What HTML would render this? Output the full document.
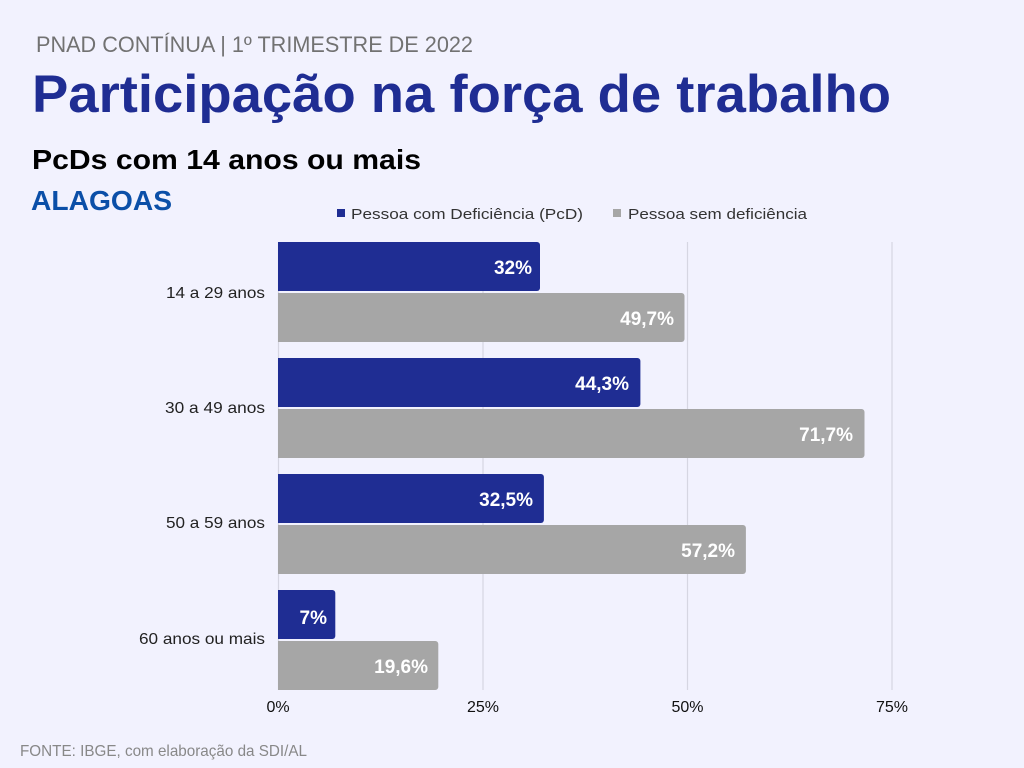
<!DOCTYPE html>
<html><head><meta charset="utf-8"><style>
html,body{margin:0;padding:0;background:#f2f2fe;}
svg{display:block;}
</style></head><body>
<svg width="1024" height="768" viewBox="0 0 1024 768" xmlns="http://www.w3.org/2000/svg" font-family="'Liberation Sans', sans-serif">
<rect x="0" y="0" width="1024" height="768" fill="#f2f2fe"/>
<text x="36" y="52" font-size="22" fill="#727272" textLength="437" lengthAdjust="spacingAndGlyphs">PNAD CONTÍNUA | 1º TRIMESTRE DE 2022</text>
<text x="32" y="112" font-size="53" font-weight="bold" fill="#1f2d93" textLength="859" lengthAdjust="spacingAndGlyphs">Participação na força de trabalho</text>
<text x="32" y="169" font-size="28" font-weight="bold" fill="#000" textLength="389" lengthAdjust="spacingAndGlyphs">PcDs com 14 anos ou mais</text>
<text x="31" y="210" font-size="28" font-weight="bold" fill="#0b4fa8" textLength="141" lengthAdjust="spacingAndGlyphs">ALAGOAS</text>
<!-- legend -->
<rect x="337" y="209" width="8" height="8" fill="#1f2d93"/>
<text x="351" y="219" font-size="15" fill="#333" textLength="232" lengthAdjust="spacingAndGlyphs">Pessoa com Deficiência (PcD)</text>
<rect x="613" y="209" width="8" height="8" fill="#a6a6a6"/>
<text x="628" y="219" font-size="15" fill="#333" textLength="179" lengthAdjust="spacingAndGlyphs">Pessoa sem deficiência</text>
<!-- gridlines -->
<g stroke="#d6d6e2" stroke-width="1.2">
<line x1="278.5" y1="242" x2="278.5" y2="690"/>
<line x1="483" y1="242" x2="483" y2="690"/>
<line x1="687.5" y1="242" x2="687.5" y2="690"/>
<line x1="892" y1="242" x2="892" y2="690"/>
</g>
<!-- bars -->
<g>
<path d="M278 242 H537 a3 3 0 0 1 3 3 V288 a3 3 0 0 1 -3 3 H278 Z" fill="#1f2d93"/>
<path d="M278 293 H681.5 a3 3 0 0 1 3 3 V339 a3 3 0 0 1 -3 3 H278 Z" fill="#a6a6a6"/>
<path d="M278 358 H637.4 a3 3 0 0 1 3 3 V404 a3 3 0 0 1 -3 3 H278 Z" fill="#1f2d93"/>
<path d="M278 409 H861.5 a3 3 0 0 1 3 3 V455 a3 3 0 0 1 -3 3 H278 Z" fill="#a6a6a6"/>
<path d="M278 474 H540.9 a3 3 0 0 1 3 3 V520 a3 3 0 0 1 -3 3 H278 Z" fill="#1f2d93"/>
<path d="M278 525 H742.9 a3 3 0 0 1 3 3 V571 a3 3 0 0 1 -3 3 H278 Z" fill="#a6a6a6"/>
<path d="M278 590 H332.3 a3 3 0 0 1 3 3 V636 a3 3 0 0 1 -3 3 H278 Z" fill="#1f2d93"/>
<path d="M278 641 H435.3 a3 3 0 0 1 3 3 V687 a3 3 0 0 1 -3 3 H278 Z" fill="#a6a6a6"/>
</g>
<!-- bar labels -->
<g font-size="19" font-weight="bold" fill="#fff" text-anchor="end">
<text x="532" y="274">32%</text>
<text x="674" y="325">49,7%</text>
<text x="629" y="390">44,3%</text>
<text x="853" y="441">71,7%</text>
<text x="533" y="506">32,5%</text>
<text x="735" y="557">57,2%</text>
<text x="327" y="624">7%</text>
<text x="428" y="673">19,6%</text>
</g>
<!-- category labels -->
<g font-size="16" fill="#222">
<text x="166" y="298" textLength="99" lengthAdjust="spacingAndGlyphs">14 a 29 anos</text>
<text x="165" y="413" textLength="100" lengthAdjust="spacingAndGlyphs">30 a 49 anos</text>
<text x="166" y="528" textLength="99" lengthAdjust="spacingAndGlyphs">50 a 59 anos</text>
<text x="139" y="644" textLength="126" lengthAdjust="spacingAndGlyphs">60 anos ou mais</text>
</g>
<!-- tick labels -->
<g font-size="16" fill="#111" text-anchor="middle">
<text x="278" y="712">0%</text>
<text x="483" y="712">25%</text>
<text x="687.5" y="712">50%</text>
<text x="892" y="712">75%</text>
</g>
<text x="20" y="756" font-size="16" fill="#888" textLength="287" lengthAdjust="spacingAndGlyphs">FONTE: IBGE, com elaboração da SDI/AL</text>
</svg>
</body></html>
